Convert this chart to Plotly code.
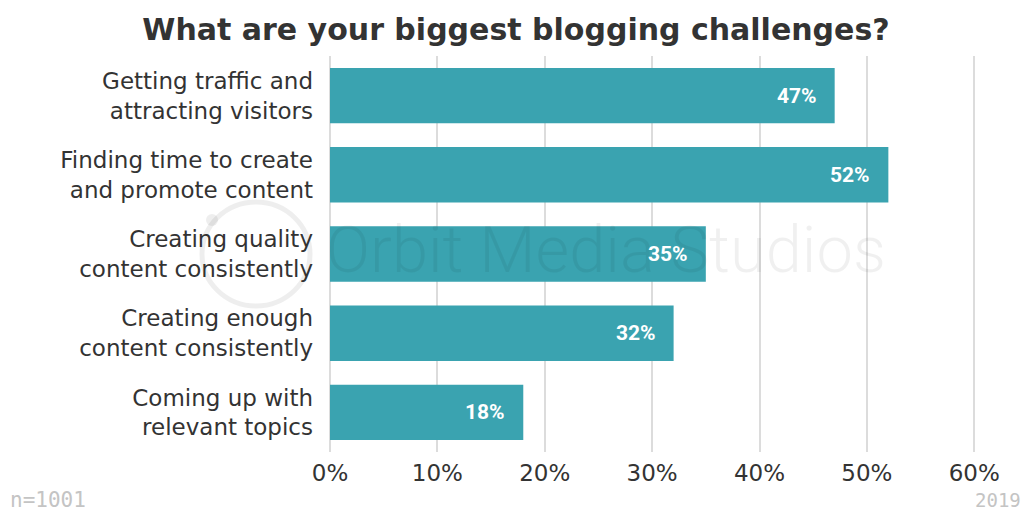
import plotly.graph_objects as go

# Survey answers, top to bottom
challenges = [
    "Getting traffic and<br>attracting visitors",
    "Finding time to create<br>and promote content",
    "Creating quality<br>content consistently",
    "Creating enough<br>content consistently",
    "Coming up with<br>relevant topics",
]
shares = [47, 52, 35, 32, 18]
tick_values = [0, 10, 20, 30, 40, 50, 60]
tick_labels = ["0%", "10%", "20%", "30%", "40%", "50%", "60%"]

BAR = "#3aa3b0"
INK = "#333333"
GRID = "#dcdcdc"
W, H = 1032, 512
ML, MR, MT, MB = 330, 47, 56, 60
px_w = W - ML - MR
px_h = H - MT - MB

fig = go.Figure(
    go.Bar(
        x=shares,
        y=challenges,
        orientation="h",
        marker=dict(color=BAR, line=dict(width=0)),
        hoverinfo="skip",
    )
)

# Faint studio watermark across the middle of the chart
fig.add_annotation(
    text="Orbit Media Studios",
    xref="paper", yref="paper",
    x=(606 - ML) / px_w, y=(H - MB - 250) / px_h,
    xanchor="center", yanchor="middle",
    showarrow=False,
    font=dict(family="Roboto", size=65, weight=300, color="rgba(0,0,0,0.06)"),
)
fig.add_shape(
    type="circle",
    xref="paper", yref="paper",
    xsizemode="pixel", ysizemode="pixel",
    xanchor=(256 - ML) / px_w, yanchor=(H - MB - 254) / px_h,
    x0=-54, x1=54, y0=-52, y1=52,
    line=dict(color="rgba(0,0,0,0.065)", width=5),
    layer="below",
)
fig.add_shape(
    type="circle",
    xref="paper", yref="paper",
    xsizemode="pixel", ysizemode="pixel",
    xanchor=(212 - ML) / px_w, yanchor=(H - MB - 220) / px_h,
    x0=-6, x1=6, y0=-6, y1=6,
    fillcolor="rgba(0,0,0,0.065)",
    line=dict(width=0),
    layer="below",
)

# Value labels inside the bar ends
for cat, val in zip(challenges, shares):
    fig.add_annotation(
        x=val, y=cat,
        text=f"{val}%",
        xanchor="right", yanchor="middle",
        xshift=-16,
        showarrow=False,
        font=dict(family="Roboto", size=21, weight="bold", color="white"),
    )

# Footnotes
foot_y = -(500 - (H - MB)) / px_h
fig.add_annotation(
    text="n=1001", xref="paper", yref="paper",
    x=-(ML - 8) / px_w, y=foot_y,
    xanchor="left", yanchor="middle", showarrow=False,
    font=dict(family="DejaVu Sans Mono", size=21, color="#c4c4c4"),
)
fig.add_annotation(
    text="2019", xref="paper", yref="paper",
    x=1 + (1023 - (W - MR)) / px_w, y=foot_y,
    xanchor="right", yanchor="middle", showarrow=False,
    font=dict(family="DejaVu Sans Mono", size=19, color="#c4c4c4"),
)

fig.update_layout(
    width=W, height=H,
    margin=dict(l=ML, r=MR, t=MT, b=MB),
    paper_bgcolor="white",
    plot_bgcolor="white",
    bargap=0.3,
    showlegend=False,
    title=dict(
        text="<b>What are your biggest blogging challenges?</b>",
        xref="container", x=0.5, xanchor="center",
        yref="container", y=1 - 29 / H, yanchor="middle",
        font=dict(family="DejaVu Sans", size=30, color=INK),
    ),
    xaxis=dict(
        range=[0, 61],
        tickvals=tick_values,
        ticktext=tick_labels,
        showgrid=True, gridcolor=GRID, gridwidth=2,
        zeroline=True, zerolinecolor=GRID, zerolinewidth=2,
        showline=False, ticks="",
        tickfont=dict(family="DejaVu Sans", size=23, color=INK),
        ticklabelstandoff=5,
        fixedrange=True,
    ),
    yaxis=dict(
        autorange="reversed",
        showgrid=False, zeroline=False, showline=False, ticks="",
        tickfont=dict(family="DejaVu Sans", size=23, color=INK),
        ticklabelstandoff=16,
        fixedrange=True,
    ),
)

fig.write_html("out.html")
